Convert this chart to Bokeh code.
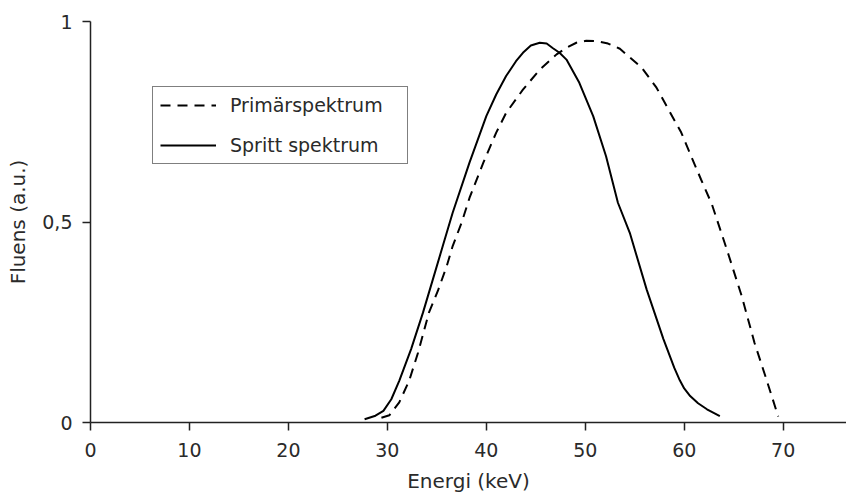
from bokeh.plotting import figure
from bokeh.models import Range1d, FixedTicker, Legend, LegendItem
from bokeh.embed import file_html
from bokeh.resources import INLINE

# Primärspektrum (dashed)
prim_x = [29.4, 30.2, 31.2, 32.2, 33.1, 34.2, 35.1, 36.0, 36.6, 37.5, 38.3, 39.7, 41.0, 42.0,
          43.7, 45.4, 47.1, 48.2, 49.1, 50.1, 51.1, 52.3, 53.5, 55.7, 57.2, 58.4, 59.7, 60.7, 61.7, 62.8,
          64.3, 65.8, 67.1, 68.3, 69.5]
prim_y = [0.012, 0.018, 0.05, 0.104, 0.174, 0.274, 0.328, 0.39, 0.44, 0.498, 0.56, 0.648, 0.723, 0.772,
          0.83, 0.88, 0.918, 0.936, 0.947, 0.952, 0.951, 0.945, 0.932, 0.885, 0.835, 0.781, 0.723, 0.664, 0.606, 0.544,
          0.432, 0.316, 0.199, 0.108, 0.015]

# Spritt spektrum (solid)
spr_x = [27.7, 28.8, 29.6, 30.4, 31.2, 32.4, 33.6, 34.6, 35.6, 36.6, 38.3, 40.0, 41.0, 42.0, 43.0, 43.7,
         44.5, 45.4, 46.1, 46.7, 47.4, 48.1, 49.4, 50.8, 52.1, 53.3, 54.5, 56.2, 57.9, 59.0, 59.5,
         60.0, 60.6, 61.4, 62.3, 63.6]
spr_y = [0.008, 0.017, 0.029, 0.058, 0.104, 0.183, 0.274, 0.357, 0.44, 0.523, 0.648, 0.764, 0.818, 0.864, 0.901, 0.922,
         0.940, 0.947, 0.945, 0.934, 0.922, 0.905, 0.847, 0.764, 0.664, 0.548, 0.473, 0.332, 0.208, 0.136, 0.108,
         0.085, 0.066, 0.048, 0.033, 0.016]

x_ticks = [0, 10, 20, 30, 40, 50, 60, 70]
y_ticks = [0, 0.5, 1]
y_tick_labels = {0: "0", 0.5: "0,5", 1: "1"}

FONT = "DejaVu Sans"
TXT = "#2a2a2a"

p = figure(width=846, height=495, output_backend="svg", toolbar_location=None,
           x_range=Range1d(0, 76.4), y_range=Range1d(0, 1),
           min_border_left=90, min_border_top=21, min_border_bottom=73, min_border_right=0)
p.outline_line_color = None
p.xgrid.visible = False
p.ygrid.visible = False
p.background_fill_color = "white"
p.border_fill_color = "white"

r1 = p.line(prim_x, prim_y, line_color="black", line_width=2, line_dash="10 7")
r2 = p.line(spr_x, spr_y, line_color="black", line_width=2)

for ax in (p.xaxis[0], p.yaxis[0]):
    ax.axis_line_color = "#222222"
    ax.axis_line_width = 1.5
    ax.major_tick_line_color = "#222222"
    ax.major_tick_line_width = 1.5
    ax.major_tick_out = 8
    ax.major_tick_in = 0
    ax.minor_tick_line_color = None
    ax.major_label_text_font = FONT
    ax.major_label_text_font_size = "19px"
    ax.major_label_text_color = TXT
    ax.axis_label_text_font = FONT
    ax.axis_label_text_font_size = "20px"
    ax.axis_label_text_font_style = "normal"
    ax.axis_label_text_color = TXT

p.xaxis.ticker = FixedTicker(ticks=x_ticks)
p.yaxis.ticker = FixedTicker(ticks=y_ticks)
p.yaxis.major_label_overrides = y_tick_labels
p.xaxis.axis_label = "Energi (keV)"
p.yaxis.axis_label = "Fluens (a.u.)"
p.xaxis.major_label_standoff = 12
p.xaxis.axis_label_standoff = 9
p.yaxis.major_label_standoff = 10
p.yaxis.axis_label_standoff = 9

legend = Legend(items=[LegendItem(label="Primärspektrum", renderers=[r1]),
                       LegendItem(label="Spritt spektrum", renderers=[r2])],
                location=(62, 258))
legend.border_line_color = "black"
legend.border_line_width = 1
legend.background_fill_color = "white"
legend.background_fill_alpha = 1
legend.label_text_font = FONT
legend.label_text_font_size = "19px"
legend.label_text_color = TXT
legend.glyph_width = 56
legend.glyph_height = 22
legend.label_height = 22
legend.label_width = 170
legend.label_standoff = 14
legend.spacing = 18
legend.padding = 7
legend.margin = 0
p.add_layout(legend, "center")

open("out.html", "w").write(file_html(p, INLINE))
